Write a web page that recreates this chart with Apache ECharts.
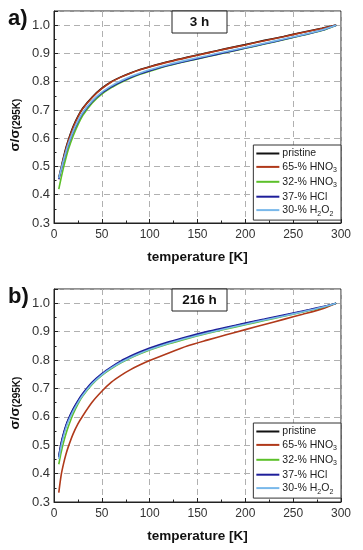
<!DOCTYPE html>
<html><head><meta charset="utf-8">
<script src="https://cdn.jsdelivr.net/npm/echarts@6/dist/echarts.min.js"></script>
<style>html,body{margin:0;padding:0;background:#fff}#c{width:363px;height:550px}</style>
</head><body><div id="c"></div>
<script>
const temps = [5, 7.5, 10, 12.5, 15, 20, 25, 30, 40, 50, 60, 70, 80, 90, 100, 120, 140, 160, 180, 200, 220, 240, 260, 280, 295];
const seriesNames = ['pristine', '65-% HNO3', '32-% HNO3', '37-% HCl', '30-% H2O2'];
const seriesColors = ['#111111', '#b0391a', '#5cc02a', '#1e1e9a', '#79b8ea'];
const panelTitles = ['3 h', '216 h'];
const panelLetters = ['a)', 'b)'];
const xTicks = [0, 50, 100, 150, 200, 250, 300];
const yTicks = [0.3, 0.4, 0.5, 0.6, 0.7, 0.8, 0.9, 1.0];

// 3 h
const pristine3 = [0.46, 0.497, 0.533, 0.566, 0.594, 0.641, 0.677, 0.706, 0.746, 0.777, 0.800, 0.817, 0.831, 0.843, 0.853, 0.871, 0.887, 0.902, 0.917, 0.931, 0.946, 0.960, 0.975, 0.989, 1.0];
const hno65_3  = [0.455, 0.493, 0.529, 0.562, 0.591, 0.638, 0.675, 0.704, 0.744, 0.775, 0.799, 0.816, 0.830, 0.842, 0.852, 0.870, 0.886, 0.901, 0.916, 0.930, 0.945, 0.959, 0.974, 0.988, 1.0];
const hno32_3  = [0.42, 0.46, 0.497, 0.53, 0.56, 0.608, 0.647, 0.68, 0.725, 0.756, 0.779, 0.797, 0.813, 0.826, 0.837, 0.857, 0.873, 0.888, 0.903, 0.918, 0.933, 0.948, 0.964, 0.981, 1.0];
const hcl_3    = [0.455, 0.488, 0.52, 0.55, 0.577, 0.622, 0.658, 0.688, 0.73, 0.76, 0.782, 0.8, 0.815, 0.828, 0.839, 0.858, 0.874, 0.889, 0.904, 0.919, 0.934, 0.949, 0.965, 0.982, 1.0];
const h2o2_3   = [0.458, 0.491, 0.523, 0.553, 0.58, 0.625, 0.661, 0.691, 0.733, 0.763, 0.785, 0.803, 0.818, 0.831, 0.842, 0.861, 0.877, 0.892, 0.907, 0.921, 0.936, 0.951, 0.966, 0.983, 1.0];
// 216 h
const pristine216 = [0.458, 0.505, 0.539, 0.567, 0.589, 0.625, 0.654, 0.679, 0.719, 0.749, 0.773, 0.794, 0.811, 0.826, 0.839, 0.861, 0.880, 0.897, 0.913, 0.928, 0.942, 0.956, 0.971, 0.986, 1.0];
const hno65_216  = [0.333, 0.395, 0.435, 0.468, 0.495, 0.54, 0.575, 0.603, 0.652, 0.69, 0.722, 0.746, 0.766, 0.783, 0.798, 0.825, 0.85, 0.87, 0.889, 0.907, 0.925, 0.943, 0.961, 0.98, 1.0];
const hno32_216  = [0.433, 0.475, 0.51, 0.54, 0.566, 0.61, 0.645, 0.673, 0.715, 0.746, 0.77, 0.79, 0.807, 0.822, 0.835, 0.857, 0.876, 0.893, 0.909, 0.924, 0.939, 0.954, 0.969, 0.985, 1.0];
const hcl_216    = [0.46, 0.508, 0.542, 0.57, 0.592, 0.628, 0.657, 0.682, 0.722, 0.752, 0.776, 0.797, 0.814, 0.829, 0.842, 0.864, 0.883, 0.9, 0.915, 0.93, 0.944, 0.958, 0.972, 0.987, 1.0];
const h2o2_216   = [0.452, 0.497, 0.532, 0.561, 0.584, 0.62, 0.65, 0.676, 0.717, 0.748, 0.772, 0.792, 0.809, 0.824, 0.837, 0.859, 0.878, 0.895, 0.911, 0.926, 0.941, 0.955, 0.97, 0.986, 1.0];

const panels = [
  [pristine3, hno65_3, hno32_3, hcl_3, h2o2_3],
  [pristine216, hno65_216, hno32_216, hcl_216, h2o2_216]
];

const FONT = '"Liberation Sans", Arial, sans-serif';
const gridTops = [11, 289];
const gridH = [212, 213];
const gridLeft = 54, gridRight = 22;

function fmtLegend(n) {
  const pre = n.indexOf(' ');
  if (pre < 0) return '{n|' + n + '}';
  const head = n.slice(0, pre + 1), tail = n.slice(pre + 1);
  let t = '';
  for (let i = 0; i < tail.length; i++) {
    const ch = tail[i];
    if (/\d/.test(ch)) t += '}{s|' + ch + '}{n|';
    else t += ch;
  }
  return '{n|' + head + t + '}';
}

const grids = [], xAxes = [], yAxes = [], series = [], legends = [], graphics = [];
panels.forEach((pdata, p) => {
  grids.push({left: gridLeft, right: gridRight, top: gridTops[p], height: gridH[p],
    show: true, borderColor: '#222', borderWidth: 1, backgroundColor: 'transparent'});
  xAxes.push({type: 'value', gridIndex: p, min: xTicks[0], max: xTicks[xTicks.length-1], interval: 50,
    name: 'temperature [K]', nameLocation: 'middle', nameGap: 27,
    nameTextStyle: {fontFamily: FONT, fontWeight: 'bold', fontSize: 13.5, color: '#111'},
    axisLine: {show: true, onZero: false, lineStyle: {color: '#222'}},
    axisTick: {show: true, inside: true, length: 4, lineStyle: {color: '#222'}},
    minorTick: {show: true, splitNumber: 2, length: 2.5, lineStyle: {color: '#222'}},
    axisLabel: {fontFamily: FONT, fontSize: 12, color: '#333', margin: 6},
    splitLine: {show: true, lineStyle: {color: '#b0b0b0', type: [6, 4], width: 1}}
  });
  yAxes.push({type: 'value', gridIndex: p, min: 0.3, max: 1.05, interval: 0.1,
    axisLine: {show: true, onZero: false, lineStyle: {color: '#222'}},
    axisTick: {show: true, inside: true, length: 4, lineStyle: {color: '#222'}},
    minorTick: {show: true, splitNumber: 2, length: 2.5, lineStyle: {color: '#222'}},
    axisLabel: {fontFamily: FONT, fontSize: 13, color: '#333', margin: 4,
      formatter: v => (v > 1.001 ? '' : v.toFixed(1)), showMaxLabel: false},
    splitLine: {show: true, lineStyle: {color: '#b0b0b0', type: [6, 4], width: 1}}
  });
  pdata.forEach((vals, i) => {
    series.push({type: 'line', name: seriesNames[i], xAxisIndex: p, yAxisIndex: p,
      data: temps.map((t, k) => [t, vals[k]]), smooth: 0.25, showSymbol: false,
      lineStyle: {color: seriesColors[i], width: 1.6}, itemStyle: {color: seriesColors[i]},
      z: 3, silent: true});
  });
  const legTop = [145, 423][p];
  legends.push({data: seriesNames.map(n => ({name: n})), orient: 'vertical',
    right: gridRight, top: legTop, itemWidth: 23, itemHeight: 2, itemGap: 2.4,
    icon: 'rect', backgroundColor: '#fff', borderColor: '#333', borderWidth: 1,
    padding: [3, 4, 3, 3], selectedMode: false,
    formatter: fmtLegend,
    textStyle: {fontFamily: FONT, fontSize: 10.5, color: '#222', padding: [0,0,0,-2],
      rich: {n: {fontFamily: FONT, fontSize: 10.5, lineHeight: 14, color: '#222'},
             s: {fontFamily: FONT, fontSize: 7, lineHeight: 7, verticalAlign: 'bottom', color: '#222'}}}
  });
  const boxY = gridTops[p];
  graphics.push({type: 'rect', shape: {x: 172, y: boxY, width: 55, height: 22},
    style: {fill: '#fff', stroke: '#222', lineWidth: 1}, z: 10});
  graphics.push({type: 'text', x: 199.5, y: boxY + 11, z: 11,
    style: {text: panelTitles[p], fontFamily: FONT, fontWeight: 'bold', fontSize: 13.5, fill: '#111',
      align: 'center', verticalAlign: 'middle'}});
  graphics.push({type: 'text', x: 8, y: boxY + 8, z: 11,
    style: {text: panelLetters[p], fontFamily: FONT, fontWeight: 'bold', fontSize: 22, fill: '#111',
      align: 'left', verticalAlign: 'middle'}});
  graphics.push({type: 'text', x: 14, y: boxY + 114, rotation: Math.PI / 2, z: 11,
    style: {text: '{a|σ/σ}{b|(295K)}', align: 'center', verticalAlign: 'middle',
      rich: {a: {fontFamily: FONT, fontWeight: 'bold', fontSize: 13.5, lineHeight: 16, fill: '#111', verticalAlign: 'bottom'},
             b: {fontFamily: FONT, fontWeight: 'bold', fontSize: 10, lineHeight: 10, fill: '#111', verticalAlign: 'bottom'}}}});
});

const chart = echarts.init(document.getElementById('c'), null, {renderer: 'canvas'});
chart.setOption({
  animation: false,
  grid: grids, xAxis: xAxes, yAxis: yAxes, series: series, legend: legends, graphic: graphics
});
</script></body></html>
